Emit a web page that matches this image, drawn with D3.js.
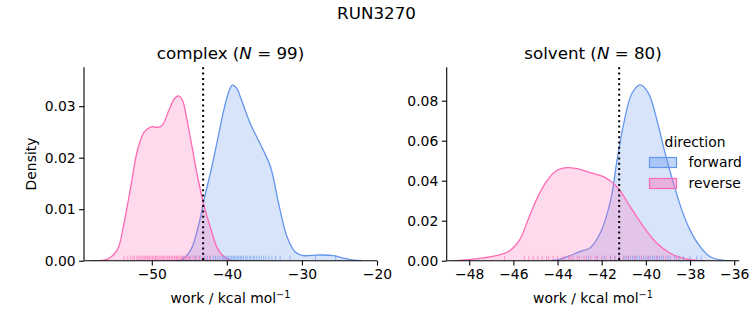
<!DOCTYPE html>
<html><head><meta charset="utf-8">
<script src="https://cdn.jsdelivr.net/npm/d3@7"></script>
<style>body{margin:0;background:#fff}svg{display:block;font-family:"DejaVu Sans",sans-serif}</style>
</head><body>
<svg id="c" width="753" height="325"></svg>
<script>
// ---- data ----
const suptitle = "RUN3270";
const directions = ["forward", "reverse"];
const colors = ["#6495ED", "#FF69B4"];
const panelNames = ["complex", "solvent"];
const panelN = [99, 80];
const dgLines = [-43.16, -41.21];

const complexXTicks = [-50, -40, -30, -20];
const complexYTicks = [0, 0.01, 0.02, 0.03];
const solventXTicks = [-48, -46, -44, -42, -40, -38, -36];
const solventYTicks = [0, 0.02, 0.04, 0.06, 0.08];

// KDE curves
const complexFwdX = [-47.0,-46.1,-44.8,-43.7,-43.0,-42.1,-41.25,-40.4,-39.7,-39.25,-38.7,-38.2,-36.9,-35.6,-34.2,-33.1,-32.0,-30.9,-29.8,-28.0,-25.8,-24.45,-23.1,-22.0];
const complexFwdY = [0,0.0001,0.0021,0.0073,0.0121,0.0176,0.0234,0.0293,0.0330,0.0341,0.0335,0.0318,0.0267,0.0228,0.0183,0.0111,0.0047,0.0017,0.0010,0.0011,0.0010,0.0005,0.0001,0];
const complexRevX = [-58.0,-57.3,-55.9,-54.6,-53.7,-52.8,-51.9,-51.0,-50.1,-49.25,-48.6,-47.7,-47.0,-46.45,-45.9,-45.4,-44.8,-43.9,-43.0,-42.1,-41.25,-40.4,-39.5,-38.5];
const complexRevY = [0,0.0000,0.0003,0.0021,0.0073,0.0144,0.0215,0.0250,0.0260,0.0259,0.0263,0.0293,0.0314,0.0320,0.0311,0.0280,0.0234,0.0163,0.0105,0.0060,0.0024,0.0008,0.0001,0];
const solventFwdX = [-44.3,-43.76,-43.0,-42.52,-42.07,-41.6,-41.31,-41.0,-40.63,-40.26,-39.88,-39.5,-39.13,-38.75,-38.37,-38.0,-37.54,-37.09,-36.5,-36.1];
const solventFwdY = [0,0.0012,0.0045,0.0065,0.0137,0.030,0.050,0.0687,0.0837,0.0879,0.0837,0.0703,0.0537,0.0387,0.0253,0.0153,0.007,0.002,0.0002,0];
const solventRevX = [-48.7,-48.43,-47.53,-46.77,-46.17,-45.72,-45.34,-44.96,-44.51,-44.06,-43.53,-43.0,-42.52,-41.92,-41.31,-40.71,-40.11,-39.5,-38.9,-38.3,-37.7,-37.3];
const solventRevY = [0,0.0002,0.0012,0.0025,0.005,0.0104,0.0204,0.0304,0.0395,0.045,0.0465,0.0457,0.044,0.042,0.037,0.027,0.017,0.0087,0.0037,0.0012,0.0002,0];

// rug samples (work values)
const complexFwdRug = [-45.8,-44.9,-44.2,-43.6,-43.0,-42.6,-42.2,-41.8,-41.5,-41.2,-40.9,-40.6,-40.4,-40.2,-40.0,-39.8,-39.6,-39.4,-39.2,-39.0,-38.8,-38.6,-38.4,-38.2,-38.0,-37.8,-37.5,-37.3,-37.0,-36.8,-36.5,-36.3,-36.0,-35.7,-35.4,-35.1,-34.8,-34.4,-34.0,-33.5,-32.9,-31.6,-28.2,-25.5];
const complexRevRug = [-53.7,-53.2,-52.8,-52.5,-52.3,-52.0,-51.8,-51.6,-51.4,-51.2,-51.0,-50.8,-50.6,-50.5,-50.3,-50.1,-49.9,-49.7,-49.5,-49.4,-49.2,-49.0,-48.8,-48.6,-48.5,-48.3,-48.1,-47.9,-47.7,-47.6,-47.4,-47.2,-47.0,-46.9,-46.7,-46.6,-46.4,-46.2,-46.1,-45.9,-45.7,-45.5,-45.3,-45.1,-44.9,-44.6,-44.3,-44.0,-43.7,-43.3,-42.8,-42.3];
const solventFwdRug = [-42.6,-42.2,-41.9,-41.6,-41.4,-41.2,-41.0,-40.9,-40.8,-40.7,-40.6,-40.5,-40.4,-40.3,-40.2,-40.1,-40.0,-39.9,-39.8,-39.7,-39.6,-39.5,-39.4,-39.3,-39.2,-39.0,-38.9,-38.7,-38.5,-38.3,-38.0,-37.7,-37.5];
const solventRevRug = [-46.4,-45.5,-45.3,-45.1,-44.9,-44.7,-44.5,-44.4,-44.2,-44.0,-43.8,-43.7,-43.5,-43.4,-43.3,-43.1,-43.0,-42.8,-42.7,-42.5,-42.3,-42.2,-42.0,-41.8,-41.6,-41.4,-41.2,-41.0,-40.8,-40.5,-40.2,-39.9,-39.5,-39.1,-38.6];

const panels = [
  {name: panelNames[0], n: panelN[0], dg: dgLines[0], xd: [-59.03, -20.0], yd: [0, 0.03755],
   xt: complexXTicks, yt: complexYTicks,
   curves: [[complexFwdX, complexFwdY], [complexRevX, complexRevY]], rugs: [complexFwdRug, complexRevRug],
   left: 84, right: 377},
  {name: panelNames[1], n: panelN[1], dg: dgLines[1], xd: [-49.02, -35.77], yd: [0, 0.0967],
   xt: solventXTicks, yt: solventYTicks,
   curves: [[solventFwdX, solventFwdY], [solventRevX, solventRevY]], rugs: [solventFwdRug, solventRevRug],
   left: 446.7, right: 739.3}
];
const yTop = 67.3, yBottom = 260.7;
const svg = d3.select("#c");
const minus = s => String(s).replace("-", "\u2212");

svg.append("text").attr("x", 376.5).attr("y", 19).attr("text-anchor", "middle")
  .attr("font-size", 16.7).text(suptitle);

panels.forEach((p, pi) => {
  const x = d3.scaleLinear().domain(p.xd).range([p.left, p.right]);
  const y = d3.scaleLinear().domain(p.yd).range([yBottom, yTop]);
  svg.append("clipPath").attr("id", "clip" + pi).append("rect")
    .attr("x", p.left).attr("y", yTop).attr("width", p.right - p.left).attr("height", yBottom - yTop);
  const g = svg.append("g");
  const gc = g.append("g").attr("clip-path", `url(#clip${pi})`);
  const crv = d3.curveCatmullRom.alpha(0.5);
  p.curves.forEach((c, i) => {
    const pts = c[0].map((v, k) => [v, c[1][k]]);
    const area = d3.area().x(d => x(d[0])).y0(y(0)).y1(d => y(d[1])).curve(crv);
    const line = d3.line().x(d => x(d[0])).y(d => y(d[1])).curve(crv);
    gc.append("path").attr("d", area(pts)).attr("fill", colors[i]).attr("fill-opacity", 0.25);
    gc.append("path").attr("d", line(pts)).attr("fill", "none").attr("stroke", colors[i]).attr("stroke-width", 1.3);
  });
  p.rugs.forEach((r, i) => {
    g.selectAll(null).data(r).enter().append("line")
      .attr("x1", d => x(d)).attr("x2", d => x(d))
      .attr("y1", yBottom).attr("y2", yBottom - 5)
      .attr("stroke", colors[i]).attr("stroke-width", 1).attr("stroke-opacity", 0.6);
  });
  g.append("line").attr("x1", x(p.dg)).attr("x2", x(p.dg)).attr("y1", yTop).attr("y2", yBottom)
    .attr("stroke", "#000").attr("stroke-width", 2).attr("stroke-dasharray", "2,3.3");
  const xa = g.append("g").attr("transform", `translate(0,${yBottom})`)
    .call(d3.axisBottom(x).tickValues(p.xt).tickSize(4.9).tickPadding(3.5).tickFormat(d => minus(d)));
  const ya = g.append("g").attr("transform", `translate(${p.left},0)`)
    .call(d3.axisLeft(y).tickValues(p.yt).tickSize(4.9).tickPadding(3.5).tickFormat(d3.format(".2f")));
  [xa, ya].forEach(a => {
    a.select(".domain").remove();
    a.selectAll(".tick line").attr("stroke-width", 1.1);
    a.selectAll("text").attr("font-size", 13.9).attr("font-family", "DejaVu Sans").attr("fill", "#000");
  });
  g.append("line").attr("x1", p.left).attr("x2", p.right).attr("y1", yBottom).attr("y2", yBottom)
    .attr("stroke", "#000").attr("stroke-width", 1.1);
  g.append("line").attr("x1", p.left).attr("x2", p.left).attr("y1", yTop).attr("y2", yBottom)
    .attr("stroke", "#000").attr("stroke-width", 1.1);
  const cx = (p.left + p.right) / 2;
  const t = svg.append("text").attr("x", cx).attr("y", 59).attr("text-anchor", "middle").attr("font-size", 16.7);
  t.append("tspan").text(p.name + " (");
  t.append("tspan").attr("font-style", "italic").text("N");
  t.append("tspan").text(" = " + p.n + ")");
  const xl = svg.append("text").attr("x", cx).attr("y", 303).attr("text-anchor", "middle").attr("font-size", 13.9);
  xl.append("tspan").text("work / kcal mol");
  xl.append("tspan").attr("font-size", 9.7).attr("dy", -5).text("\u22121");
});

svg.append("text").attr("transform", "translate(36,164) rotate(-90)").attr("text-anchor", "middle")
  .attr("font-size", 13.9).text("Density");

const lg = svg.append("g");
lg.append("text").attr("x", 695).attr("y", 147).attr("text-anchor", "middle").attr("font-size", 13.9).text("direction");
directions.forEach((d, i) => {
  const yy = 157.5 + i * 21;
  lg.append("rect").attr("x", 649.5).attr("y", yy).attr("width", 27).attr("height", 10)
    .attr("fill", colors[i]).attr("fill-opacity", 0.4).attr("stroke", colors[i]).attr("stroke-width", 1.2);
  lg.append("text").attr("x", 688.5).attr("y", yy + 9.5).attr("font-size", 13.9).text(d);
});
</script>
</body></html>
